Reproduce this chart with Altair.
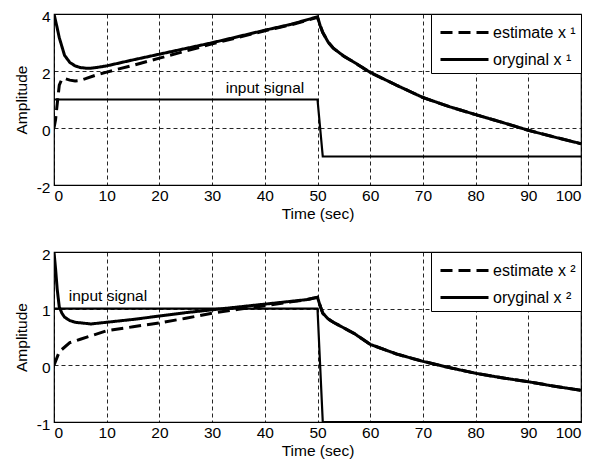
import altair as alt
import pandas as pd

# ---------------- data ----------------
# Panel 1
t_orig1 = [0, 0.5, 1, 2, 3, 4, 5, 6, 7, 8, 10, 15, 20, 25, 30, 35, 40, 45, 50,
           50.5, 51, 52, 53, 55, 57, 60, 65, 70, 75, 80, 85, 90, 95, 100]
v_orig1 = [4.0, 3.6, 3.17, 2.55, 2.3, 2.18, 2.12, 2.1, 2.1, 2.12, 2.18, 2.39, 2.59, 2.79, 2.99, 3.21, 3.43, 3.64, 3.9,
           3.6, 3.35, 3.02, 2.8, 2.52, 2.3, 1.95, 1.5, 1.07, 0.75, 0.47, 0.2, -0.08, -0.32, -0.55]
t_est1 = [0, 0.3, 0.7, 1, 1.5, 2, 3, 4, 5, 6, 8, 10, 12, 15, 20, 25, 30, 35, 40, 45, 50]
v_est1 = [0.0, 0.3, 1.0, 1.5, 1.72, 1.74, 1.68, 1.65, 1.67, 1.73, 1.86, 1.96, 2.06, 2.2, 2.45, 2.7, 2.95, 3.18, 3.41, 3.62, 3.88]
t_in1 = [0, 50, 51, 100]
v_in1 = [1, 1, -1, -1]

# Panel 2
t_orig2 = [0, 0.3, 0.6, 1, 1.5, 2, 3, 4, 5, 7, 10, 15, 20, 25, 30, 35, 40, 45, 48, 50,
           50.5, 51, 52, 53, 55, 57, 60, 65, 70, 75, 80, 85, 90, 95, 100]
v_orig2 = [2.0, 1.7, 1.35, 1.03, 0.92, 0.85, 0.79, 0.76, 0.75, 0.73, 0.76, 0.81, 0.87, 0.93, 0.98, 1.03, 1.08, 1.13, 1.16, 1.2,
           1.05, 0.92, 0.82, 0.76, 0.66, 0.56, 0.37, 0.2, 0.07, -0.04, -0.14, -0.22, -0.29, -0.37, -0.44]
t_est2 = [0, 1, 3, 5, 10, 15, 20, 25, 30, 35, 40, 45, 48, 50]
v_est2 = [0.0, 0.24, 0.4, 0.46, 0.61, 0.68, 0.75, 0.83, 0.92, 0.99, 1.05, 1.12, 1.16, 1.2]
t_in2 = [0, 50, 51, 100]
v_in2 = [1, 1, -1, -1]

x_ticks = [0, 10, 20, 30, 40, 50, 60, 70, 80, 90, 100]
y_ticks1 = [-2, 0, 2, 4]
y_ticks2 = [-1, 0, 1, 2]

FONT = "Liberation Sans"
FS = 15.5
W = 527


def panel(t_est, v_est, t_orig, v_orig, t_in, v_in, sup, ydom, yticks, lab_t, lab_v, h):
    est_name = "estimate x " + sup
    orig_name = "oryginal x " + sup
    t_est_full = t_est + [t for t in t_orig if t > t_est[-1]]
    v_est_full = v_est + [v for t, v in zip(t_orig, v_orig) if t > t_est[-1]]
    df = pd.concat([
        pd.DataFrame({"t": t_est_full, "v": v_est_full, "s": est_name, "o": range(len(t_est_full))}),
        pd.DataFrame({"t": t_orig, "v": v_orig, "s": orig_name, "o": range(len(t_orig))}),
    ])
    df_in = pd.DataFrame({"t": t_in, "v": v_in})
    df_lab = pd.DataFrame({"t": [lab_t], "v": [lab_v], "txt": ["input signal"]})

    xenc = alt.X("t:Q", scale=alt.Scale(domain=[0, 100], nice=False),
                 axis=alt.Axis(values=x_ticks, title="Time (sec)", grid=True,
                               labelPadding=3, titlePadding=3))
    yenc = alt.Y("v:Q", scale=alt.Scale(domain=ydom, nice=False),
                 axis=alt.Axis(values=yticks, title="Amplitude", grid=True,
                               labelExpr="'' + datum.value", labelOffset=2,
                               labelPadding=4, titlePadding=7))

    inp = alt.Chart(df_in).mark_line(color="black", strokeWidth=2.2, clip=True).encode(x=xenc, y=yenc)
    lines = alt.Chart(df).mark_line(color="black", strokeWidth=3, clip=True).encode(
        x="t:Q", y="v:Q", order="o:Q",
        strokeDash=alt.StrokeDash(
            "s:N",
            scale=alt.Scale(domain=[est_name, orig_name], range=[[12, 6], [1, 0]]),
            legend=alt.Legend(title=None, orient="top-right", offset=0,
                              strokeColor="black", fillColor="white", padding=5,
                              symbolType="M-2,0H2", symbolStrokeWidth=3,
                              symbolStrokeColor="black", symbolSize=576,
                              symbolOffset=15,
                              labelFontSize=16, labelFont=FONT, labelColor="black",
                              labelOffset=15, rowPadding=5, labelLimit=200,
                              cornerRadius=0),
        ),
    )
    txt = alt.Chart(df_lab).mark_text(align="left", baseline="alphabetic", fontSize=FS,
                                      font=FONT, color="black").encode(
        x="t:Q", y="v:Q", text="txt:N")
    return alt.layer(inp, lines, txt).properties(width=W, height=h)


top = panel(t_est1, v_est1, t_orig1, v_orig1, t_in1, v_in1, "¹", [-2, 4], y_ticks1, 32.6, 1.23, 171)
bot = panel(t_est2, v_est2, t_orig2, v_orig2, t_in2, v_in2, "²", [-1, 2], y_ticks2, 2.8, 1.14, 170)

chart = alt.vconcat(top, bot, spacing=23).resolve_scale(strokeDash="independent").resolve_legend(
    strokeDash="independent"
).configure_view(stroke="black", strokeWidth=1.2).configure_axis(
    domain=False, ticks=False, gridColor="black", gridDash=[4, 3], gridWidth=1, gridOpacity=0.85,
    labelFont=FONT, titleFont=FONT, labelFontSize=FS, titleFontSize=FS,
    titleFontWeight="normal", labelColor="black", titleColor="black",
).properties(padding={"left": 5, "top": 0, "right": 0, "bottom": 0}, background="white")

chart.save("out.html", embed_options={"renderer": "svg", "actions": False})
